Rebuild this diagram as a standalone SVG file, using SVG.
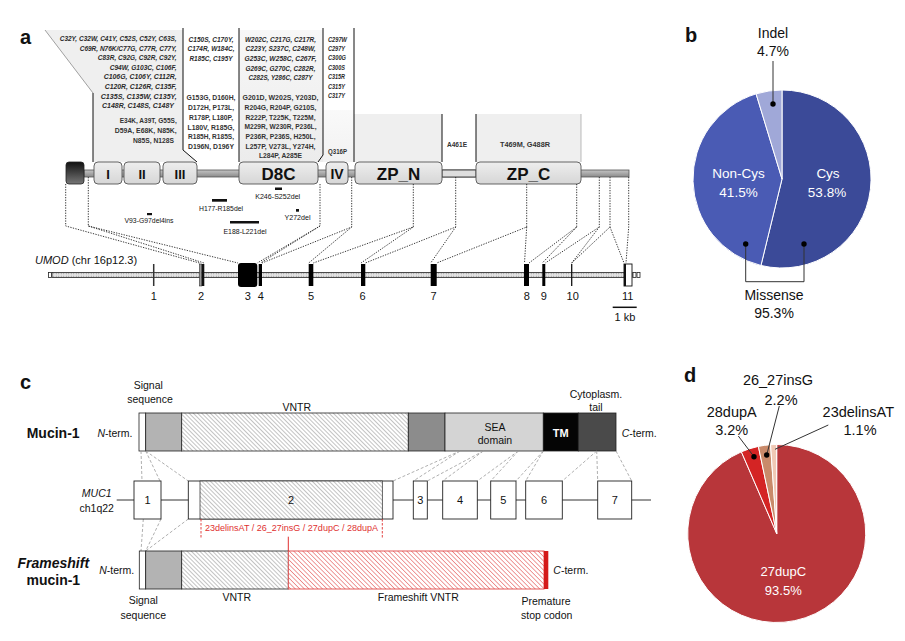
<svg xmlns="http://www.w3.org/2000/svg" width="905" height="641" viewBox="0 0 905 641">
<defs>
<style>
text{font-family:"Liberation Sans",Arial,sans-serif;fill:#111}
.lab{font-weight:bold;font-size:20px}
.mi{font-style:italic;font-weight:bold;font-size:7.3px;fill:#2a2a2a}
.mn{font-weight:bold;font-size:7.3px;fill:#333}
.dom{font-weight:bold;font-size:17px;text-anchor:middle}
.ex{font-size:11px;text-anchor:middle}
.dl{font-size:7px;text-anchor:middle}
.dt{stroke:#222;stroke-width:0.9;stroke-dasharray:1.3 1.3;fill:none}
.gd{stroke:#9a9a9a;stroke-width:0.8;stroke-dasharray:3 2;fill:none}
.c{font-size:10.5px;text-anchor:middle}
.pw{font-size:13.5px;fill:#fff;text-anchor:middle}
.pk{font-size:14px;text-anchor:middle}
.box{fill:url(#boxg);stroke:#555;stroke-width:0.9}
.seg{stroke:#222;stroke-width:0.8}
</style>
<linearGradient id="boxg" x1="0" y1="0" x2="0" y2="1"><stop offset="0" stop-color="#eeeeee"/><stop offset="1" stop-color="#d6d6d6"/></linearGradient>
<linearGradient id="barg" x1="0" y1="0" x2="0" y2="1"><stop offset="0" stop-color="#c4c4c4"/><stop offset="1" stop-color="#8a8a8a"/></linearGradient>
<linearGradient id="sigg" x1="0" y1="0" x2="0" y2="1"><stop offset="0" stop-color="#111"/><stop offset="1" stop-color="#777"/></linearGradient>
<linearGradient id="colg" x1="0" y1="0" x2="0" y2="1"><stop offset="0" stop-color="#f7f7f7"/><stop offset="1" stop-color="#ececec"/></linearGradient>
<pattern id="hatch" patternUnits="userSpaceOnUse" width="3" height="3" patternTransform="rotate(-45)"><rect width="3" height="3" fill="#fff"/><line x1="0" y1="0" x2="0" y2="3" stroke="#7a7a7a" stroke-width="0.9"/></pattern>
<pattern id="rhatch" patternUnits="userSpaceOnUse" width="3.2" height="3.2" patternTransform="rotate(-45)"><rect width="3.2" height="3.2" fill="#fff"/><line x1="0" y1="0" x2="0" y2="3.2" stroke="#e03a3a" stroke-width="1"/></pattern>
<pattern id="dots" patternUnits="userSpaceOnUse" width="2.5" height="2.5"><rect width="2.5" height="2.5" fill="#e6e6e6"/><circle cx="1.25" cy="1.25" r="0.6" fill="#8a8a8a"/></pattern>
</defs>
<rect width="905" height="641" fill="#fff"/>

<!-- Panel labels -->
<text class="lab" x="20" y="44">a</text>
<text class="lab" x="685" y="42">b</text>
<text class="lab" x="20" y="389">c</text>
<text class="lab" x="684" y="382">d</text>

<!-- Panel a: callouts -->
<g id="callouts">
<polygon points="45,30 183,30 183,150 197,162 93,162 93,93" fill="#efefef"/>
<rect x="239" y="30" width="84" height="132" fill="url(#colg)"/>
<rect x="323" y="110" width="31" height="52" fill="url(#colg)" opacity="0.7"/>
<rect x="354" y="114" width="88" height="48" fill="#efefef"/>
<rect x="476" y="114" width="105" height="48" fill="#efefef"/>
<line x1="45" y1="30" x2="93" y2="93" stroke="#8a8a8a" stroke-width="0.8"/>
<line x1="93" y1="93" x2="93" y2="162" stroke="#111" stroke-width="1"/>
<polyline points="183,28 183,150 197,162" fill="none" stroke="#111" stroke-width="1"/>
<line x1="239" y1="28" x2="239" y2="162" stroke="#111" stroke-width="1"/>
<polyline points="323,28 323,155 318,162" fill="none" stroke="#111" stroke-width="1"/>
<line x1="354" y1="28" x2="354" y2="162" stroke="#111" stroke-width="1"/>
<line x1="442" y1="114" x2="442" y2="162" stroke="#111" stroke-width="1"/>
<line x1="476" y1="114" x2="476" y2="162" stroke="#111" stroke-width="1"/>
<line x1="581" y1="114" x2="581" y2="162" stroke="#aaa" stroke-width="0.8"/>
</g>

<g id="mut-col1" text-anchor="end">
<text class="mi" x="176.7" y="41" textLength="117" lengthAdjust="spacingAndGlyphs">C32Y, C32W, C41Y, C52S, C52Y, C63S,</text>
<text class="mi" x="176.7" y="50.6" textLength="97" lengthAdjust="spacingAndGlyphs">C69R, N76K/C77G, C77R, C77Y,</text>
<text class="mi" x="176.7" y="60.2" textLength="79" lengthAdjust="spacingAndGlyphs">C83R, C92G, C92R, C92Y,</text>
<text class="mi" x="176.7" y="69.8" textLength="67" lengthAdjust="spacingAndGlyphs">C94W, G103C, C106F,</text>
<text class="mi" x="176.7" y="79.4" textLength="73" lengthAdjust="spacingAndGlyphs">C106G, C106Y, C112R,</text>
<text class="mi" x="176.7" y="89" textLength="72" lengthAdjust="spacingAndGlyphs">C120R, C126R, C135F,</text>
<text class="mi" x="176.7" y="98.6" textLength="76" lengthAdjust="spacingAndGlyphs">C135S, C135W, C135Y,</text>
<text class="mi" x="174" y="108.2" textLength="72" lengthAdjust="spacingAndGlyphs">C148R, C148S, C148Y</text>
<text class="mn" x="176.7" y="122.5" textLength="57" lengthAdjust="spacingAndGlyphs">E34K, A39T, G55S,</text>
<text class="mn" x="176.7" y="132.5" textLength="62" lengthAdjust="spacingAndGlyphs">D59A, E68K, N85K,</text>
<text class="mn" x="174" y="142.7" textLength="41" lengthAdjust="spacingAndGlyphs">N85S, N128S</text>
</g>

<g id="mut-col2" text-anchor="middle">
<text class="mi" x="211" y="41.5" textLength="45" lengthAdjust="spacingAndGlyphs">C150S, C170Y,</text>
<text class="mi" x="211" y="51.3" textLength="47" lengthAdjust="spacingAndGlyphs">C174R, W184C,</text>
<text class="mi" x="211" y="61" textLength="43" lengthAdjust="spacingAndGlyphs">R185C, C195Y</text>
<text class="mn" x="211" y="100.2" textLength="49" lengthAdjust="spacingAndGlyphs">G153G, D160H,</text>
<text class="mn" x="211" y="110" textLength="46" lengthAdjust="spacingAndGlyphs">D172H, P173L,</text>
<text class="mn" x="211" y="119.8" textLength="44" lengthAdjust="spacingAndGlyphs">R178P, L180P,</text>
<text class="mn" x="211" y="129.6" textLength="47" lengthAdjust="spacingAndGlyphs">L180V, R185G,</text>
<text class="mn" x="211" y="139.4" textLength="46" lengthAdjust="spacingAndGlyphs">R185H, R185S,</text>
<text class="mn" x="211" y="149.2" textLength="46" lengthAdjust="spacingAndGlyphs">D196N, D196Y</text>
</g>

<g id="mut-col3" text-anchor="middle">
<text class="mi" x="280.5" y="41.5" textLength="71" lengthAdjust="spacingAndGlyphs">W202C, C217G, C217R,</text>
<text class="mi" x="280.5" y="51.2" textLength="70" lengthAdjust="spacingAndGlyphs">C223Y, S237C, C248W,</text>
<text class="mi" x="280.5" y="60.9" textLength="72" lengthAdjust="spacingAndGlyphs">G253C, W258C, C267F,</text>
<text class="mi" x="280.5" y="70.6" textLength="70" lengthAdjust="spacingAndGlyphs">G269C, G270C, C282R,</text>
<text class="mi" x="280.5" y="80.3" textLength="64" lengthAdjust="spacingAndGlyphs">C282S, Y286C, C287Y</text>
<text class="mn" x="280.5" y="100.2" textLength="76" lengthAdjust="spacingAndGlyphs">G201D, W202S, Y203D,</text>
<text class="mn" x="280.5" y="109.9" textLength="72" lengthAdjust="spacingAndGlyphs">R204G, R204P, G210S,</text>
<text class="mn" x="280.5" y="119.6" textLength="70" lengthAdjust="spacingAndGlyphs">R222P, T225K, T225M,</text>
<text class="mn" x="280.5" y="129.3" textLength="72" lengthAdjust="spacingAndGlyphs">M229R, W230R, P236L,</text>
<text class="mn" x="280.5" y="139" textLength="70" lengthAdjust="spacingAndGlyphs">P236R, P236S, H250L,</text>
<text class="mn" x="280.5" y="148.7" textLength="70" lengthAdjust="spacingAndGlyphs">L257P, V273L, Y274H,</text>
<text class="mn" x="280.5" y="158.4" textLength="43" lengthAdjust="spacingAndGlyphs">L284P, A285E</text>
</g>

<g id="mut-col4">
<text class="mi" x="328" y="41.5" textLength="19" lengthAdjust="spacingAndGlyphs">C297W</text>
<text class="mi" x="328" y="51" textLength="17" lengthAdjust="spacingAndGlyphs">C297Y</text>
<text class="mi" x="328" y="60.4" textLength="18" lengthAdjust="spacingAndGlyphs">C300G</text>
<text class="mi" x="328" y="69.9" textLength="17" lengthAdjust="spacingAndGlyphs">C300S</text>
<text class="mi" x="328" y="79.3" textLength="17" lengthAdjust="spacingAndGlyphs">C315R</text>
<text class="mi" x="328" y="88.8" textLength="17" lengthAdjust="spacingAndGlyphs">C315Y</text>
<text class="mi" x="328" y="98.2" textLength="17" lengthAdjust="spacingAndGlyphs">C317Y</text>
<text class="mn" x="328" y="154" textLength="19" lengthAdjust="spacingAndGlyphs">Q316P</text>
<text class="mn" x="447" y="146.5" textLength="20" lengthAdjust="spacingAndGlyphs">A461E</text>
<text class="mn" x="500" y="146.5" textLength="50" lengthAdjust="spacingAndGlyphs">T469M, G488R</text>
</g>

<!-- Panel a: protein domain bar -->
<g id="protein">
<rect x="84" y="170" width="545" height="7" fill="url(#barg)" stroke="#555" stroke-width="0.8"/>
<rect x="442" y="170" width="34" height="7" fill="#dedede" stroke="#222" stroke-width="0.8"/>
<rect x="66" y="162" width="18" height="22" rx="3" fill="url(#sigg)" stroke="#222" stroke-width="0.8"/>
</g>
<g id="dom-I"><rect class="box" x="94" y="162" width="28" height="22" rx="4"/><text class="dom" x="108" y="178.5" style="font-size:13px">I</text></g>
<g id="dom-II"><rect class="box" x="124" y="162" width="36" height="22" rx="4"/><text class="dom" x="142" y="178.5" style="font-size:13px">II</text></g>
<g id="dom-III"><rect class="box" x="163" y="162" width="34" height="22" rx="4"/><text class="dom" x="180" y="178.5" style="font-size:13px">III</text></g>
<g id="dom-D8C"><rect class="box" x="239" y="162" width="79" height="22" rx="4"/><text class="dom" x="278.5" y="179.5">D8C</text></g>
<g id="dom-IV"><rect class="box" x="326" y="162" width="22" height="22" rx="4"/><text class="dom" x="337" y="179" style="font-size:14px">IV</text></g>
<g id="dom-ZPN"><rect class="box" x="355" y="162" width="87" height="22" rx="4"/><text class="dom" x="398.5" y="179.5">ZP_N</text></g>
<g id="dom-ZPC"><rect class="box" x="476" y="162" width="105" height="22" rx="4"/><text class="dom" x="528.5" y="179.5">ZP_C</text></g>

<g id="deletions">
<rect x="275" y="187.5" width="7" height="2.5" fill="#111"/><text class="dl" x="277.7" y="198.5" textLength="45" lengthAdjust="spacingAndGlyphs">K246-S252del</text>
<rect x="212" y="199" width="15" height="2.7" fill="#111"/><text class="dl" x="221" y="210.8" textLength="44" lengthAdjust="spacingAndGlyphs">H177-R185del</text>
<rect x="147" y="213" width="5" height="2.2" fill="#111"/><text class="dl" x="149" y="223" textLength="49" lengthAdjust="spacingAndGlyphs">V93-G97del4ins</text>
<rect x="230" y="221" width="29" height="2.5" fill="#111"/><text class="dl" x="245" y="233.5" textLength="43" lengthAdjust="spacingAndGlyphs">E188-L221del</text>
<rect x="296" y="209" width="3" height="2.7" fill="#111"/><text class="dl" x="297.5" y="219.8" textLength="26" lengthAdjust="spacingAndGlyphs">Y272del</text>
</g>

<!-- Panel a connectors -->
<g id="connectors-a">
<path class="dt" d="M65.7,184 V226 L199.5,263"/>
<path class="dt" d="M88.3,177 V226 L204,263 M88.3,226 L238,263"/>
<path class="dt" d="M320,184 V226 L257.3,263 M320,226 L260.5,263"/>
<path class="dt" d="M351.7,177 V227 L262,263 M351.7,227 L308.7,263"/>
<path class="dt" d="M413.3,184 V227 L313.3,263 M413.3,227 L361,263"/>
<path class="dt" d="M455.7,177 V227 L365.3,263 M455.7,227 L430.7,263"/>
<path class="dt" d="M526.7,184 V227 L436.7,263 M526.7,227 L524.5,263"/>
<path class="dt" d="M576.7,184 V227 L529,263 M576.7,227 L542.3,263"/>
<path class="dt" d="M599.3,177 V227 L545.3,263 M599.3,227 L571.7,263"/>
<path class="dt" d="M610,177 V227 L571.7,263 M610,227 L624,263"/>
<path class="dt" d="M628.7,177 V227 L626,263"/>
</g>

<!-- Panel a gene -->
<g id="umod-gene">
<text x="35" y="264" style="font-size:11px"><tspan font-style="italic">UMOD</tspan> (chr 16p12.3)</text>
<rect x="52" y="272.5" width="580" height="5" fill="url(#dots)" stroke="#222" stroke-width="0.8"/>
<rect x="48.5" y="272.5" width="3" height="5" fill="#fff" stroke="#222" stroke-width="0.8"/>
<rect x="633" y="272.5" width="3" height="5" fill="#fff" stroke="#222" stroke-width="0.8"/>
<rect x="637" y="272.5" width="3" height="5" fill="#fff" stroke="#222" stroke-width="0.8"/>
<line x1="153.7" y1="264" x2="153.7" y2="286" stroke="#333" stroke-width="1.5"/>
<rect x="199.3" y="264" width="2.5" height="22" fill="#999" stroke="#222" stroke-width="0.5"/>
<rect x="201.8" y="264" width="2.5" height="22" fill="#111"/>
<rect x="238" y="263" width="19.3" height="24" rx="3" fill="#000"/>
<rect x="258.7" y="264" width="3.3" height="22" fill="#000"/>
<rect x="308.7" y="264" width="4.6" height="22" fill="#000"/>
<rect x="361" y="264" width="4.3" height="22" fill="#000"/>
<rect x="430.7" y="264" width="6" height="22" fill="#000"/>
<rect x="524" y="264" width="5" height="22" fill="#000"/>
<rect x="542.3" y="264" width="3" height="22" fill="#000"/>
<line x1="571.7" y1="264" x2="571.7" y2="286" stroke="#111" stroke-width="1.3"/>
<rect x="624" y="264" width="8" height="22" fill="#fff" stroke="#111" stroke-width="0.9"/>
<rect x="624" y="264" width="2" height="22" fill="#111"/>
<text class="ex" x="153.7" y="300">1</text>
<text class="ex" x="201" y="300">2</text>
<text class="ex" x="247.7" y="300">3</text>
<text class="ex" x="260.7" y="300">4</text>
<text class="ex" x="311" y="300">5</text>
<text class="ex" x="362.5" y="300">6</text>
<text class="ex" x="433.5" y="300">7</text>
<text class="ex" x="526.7" y="300">8</text>
<text class="ex" x="543.7" y="300">9</text>
<text class="ex" x="572.7" y="300">10</text>
<text class="ex" x="627.7" y="300">11</text>
<line x1="612.7" y1="307.3" x2="636.7" y2="307.3" stroke="#111" stroke-width="1.5"/>
<text class="ex" x="625" y="321">1 kb</text>
</g>

<!-- Panel b pie -->
<g id="pie-b">
<path d="M782,179 L782,90 A89,89 0 1,1 760.95,265.47 Z" fill="#3b4a98" stroke="#fff" stroke-width="1"/>
<path d="M782,179 L760.95,265.47 A89,89 0 0,1 756.1,93.85 Z" fill="#4a5bb4" stroke="#fff" stroke-width="1"/>
<path d="M782,179 L756.1,93.85 A89,89 0 0,1 782,90 Z" fill="#a0a8d8" stroke="#fff" stroke-width="1"/>
<text class="pw" x="828" y="178">Cys</text>
<text class="pw" x="827" y="197">53.8%</text>
<text class="pw" x="738.5" y="178">Non-Cys</text>
<text class="pw" x="738.5" y="197">41.5%</text>
<text class="pk" x="773" y="38">Indel</text>
<text class="pk" x="773" y="56">4.7%</text>
<line x1="773" y1="61" x2="773" y2="104" stroke="#333" stroke-width="1"/>
<circle cx="773" cy="104" r="2.7" fill="#000"/>
<polyline points="745.7,244 745.7,281.7 804,281.7 804,244" fill="none" stroke="#333" stroke-width="1"/>
<circle cx="745.7" cy="244" r="2.7" fill="#000"/>
<circle cx="804" cy="244" r="2.7" fill="#000"/>
<text class="pk" x="774" y="300">Missense</text>
<text class="pk" x="774" y="318">95.3%</text>
</g>

<!-- Panel c -->
<g id="mucin1">
<text x="26.7" y="438" style="font-weight:bold;font-size:14px">Mucin-1</text>
<text class="c" x="115" y="437"><tspan font-style="italic">N</tspan>-term.</text>
<text class="c" x="148.3" y="389">Signal</text>
<text class="c" x="150" y="403">sequence</text>
<text class="c" x="296.7" y="411">VNTR</text>
<text class="c" x="596" y="398">Cytoplasm.</text>
<text class="c" x="596" y="411">tail</text>
<rect class="seg" x="139" y="413" width="6.7" height="38" fill="#fff"/>
<rect class="seg" x="145.7" y="413" width="36" height="38" fill="#b3b3b3"/>
<rect class="seg" x="181.7" y="413" width="226.6" height="38" fill="url(#hatch)"/>
<rect class="seg" x="408.3" y="413" width="36.7" height="38" fill="#8c8c8c"/>
<rect class="seg" x="445" y="413" width="98.3" height="38" fill="#d4d4d4"/>
<rect class="seg" x="543.3" y="413" width="35" height="38" fill="#050505"/>
<rect class="seg" x="578.3" y="413" width="37.7" height="38" fill="#4a4a4a"/>
<text class="c" x="495" y="430.5">SEA</text>
<text class="c" x="495" y="444">domain</text>
<text x="560.7" y="437" style="font-weight:bold;font-size:11px;fill:#fff;text-anchor:middle">TM</text>
<text class="c" x="621.7" y="437" style="text-anchor:start"><tspan font-style="italic">C</tspan>-term.</text>
</g>

<g id="connectors-c">
<path class="gd" d="M141,451 L142,481 M145.7,451 L160,481 M145.7,451 L188.3,481"/>
<path class="gd" d="M460,451 L393,481 M460,451 L413.3,481"/>
<path class="gd" d="M483.3,451 L427.3,481 M483.3,451 L442.7,481"/>
<path class="gd" d="M518.3,451 L477.3,481 M518.3,451 L490.7,481"/>
<path class="gd" d="M543.3,451 L516,481 M543.3,451 L525.7,481"/>
<path class="gd" d="M596.7,451 L562.3,481 M596.7,451 L597.7,481"/>
<path class="gd" d="M616,451 L631.7,481"/>
<path class="gd" d="M143.3,519 L141,551 M161,519 L145.7,551 M188.3,519 L145.7,551"/>
</g>

<g id="muc1-gene">
<text class="c" x="96.7" y="497" font-style="italic">MUC1</text>
<text class="c" x="96.7" y="512">ch1q22</text>
<line x1="116.7" y1="500" x2="651" y2="500" stroke="#333" stroke-width="1"/>
<rect x="134" y="481" width="27" height="38" fill="#fff" stroke="#222" stroke-width="0.9"/>
<rect x="188.3" y="481" width="204.7" height="38" fill="#fff" stroke="#222" stroke-width="0.9"/>
<rect x="200" y="481" width="182.3" height="38" fill="url(#hatch)" stroke="#222" stroke-width="0.7"/>
<rect x="413.3" y="481" width="14" height="38" fill="#fff" stroke="#222" stroke-width="0.9"/>
<rect x="442.7" y="481" width="34.6" height="38" fill="#fff" stroke="#222" stroke-width="0.9"/>
<rect x="490.7" y="481" width="25.3" height="38" fill="#fff" stroke="#222" stroke-width="0.9"/>
<rect x="525.7" y="481" width="36.6" height="38" fill="#fff" stroke="#222" stroke-width="0.9"/>
<rect x="597.7" y="481" width="34" height="38" fill="#fff" stroke="#222" stroke-width="0.9"/>
<text class="ex" x="147.5" y="504">1</text>
<text class="ex" x="291" y="504">2</text>
<text class="ex" x="420.3" y="504">3</text>
<text class="ex" x="460" y="504">4</text>
<text class="ex" x="503.3" y="504">5</text>
<text class="ex" x="544" y="504">6</text>
<text class="ex" x="614.7" y="504">7</text>
<line x1="201" y1="519" x2="201" y2="538.3" stroke="#e03030" stroke-width="0.9" stroke-dasharray="2.5 1.5"/>
<line x1="382.3" y1="519" x2="382.3" y2="538.3" stroke="#e03030" stroke-width="0.9" stroke-dasharray="2.5 1.5"/>
<text x="205" y="531" style="font-size:9px;fill:#e03030" textLength="173" lengthAdjust="spacingAndGlyphs">23delinsAT / 26_27insG / 27dupC / 28dupA</text>
<line x1="288.3" y1="536.7" x2="288.3" y2="551" stroke="#e03030" stroke-width="1"/>
</g>

<g id="frameshift-mucin1">
<text x="53.3" y="567.5" style="font-weight:bold;font-style:italic;font-size:14px;text-anchor:middle">Frameshift</text>
<text x="53.3" y="585" style="font-weight:bold;font-size:14px;text-anchor:middle">mucin-1</text>
<text class="c" x="116.7" y="574"><tspan font-style="italic">N</tspan>-term.</text>
<rect class="seg" x="139.3" y="551" width="6.4" height="38" fill="#fff"/>
<rect class="seg" x="145.7" y="551" width="36" height="38" fill="#b3b3b3"/>
<rect class="seg" x="181.7" y="551" width="106.6" height="38" fill="url(#hatch)"/>
<rect x="288.3" y="551" width="255.7" height="38" fill="url(#rhatch)" stroke="#e04848" stroke-width="0.9"/>
<rect x="544" y="551" width="4.3" height="38" fill="#d41a1a"/>
<text class="c" x="143.3" y="604">Signal</text>
<text class="c" x="143.3" y="619">sequence</text>
<text class="c" x="236.7" y="601">VNTR</text>
<text class="c" x="418.3" y="601">Frameshift VNTR</text>
<text class="c" x="553.3" y="574" style="text-anchor:start"><tspan font-style="italic">C</tspan>-term.</text>
<text class="c" x="546" y="605">Premature</text>
<text class="c" x="546.7" y="619">stop codon</text>
</g>

<!-- Panel d pie -->
<g id="pie-d">
<path d="M776.7,533.5 L776.7,444.5 A89,89 0 1,1 741.36,451.82 Z" fill="#b8363a" stroke="#fff" stroke-width="1"/>
<path d="M776.7,533.5 L741.36,451.82 A89,89 0 0,1 758.38,446.4 Z" fill="#d42424" stroke="#fff" stroke-width="1"/>
<path d="M776.7,533.5 L758.38,446.4 A89,89 0 0,1 770.55,444.71 Z" fill="#c98a6a" stroke="#fff" stroke-width="1"/>
<path d="M776.7,533.5 L770.55,444.71 A89,89 0 0,1 776.7,444.5 Z" fill="#f0c8b4" stroke="#fff" stroke-width="1"/>
<text class="pw" x="783.3" y="576" style="font-size:13px">27dupC</text>
<text class="pw" x="783.3" y="594.5" style="font-size:13px">93.5%</text>
<text class="pk" x="778" y="385" style="font-size:14.5px">26_27insG</text>
<text class="pk" x="781" y="405" style="font-size:14.5px">2.2%</text>
<text class="pk" x="731.7" y="416.5" style="font-size:14.5px">28dupA</text>
<text class="pk" x="731.7" y="435" style="font-size:14.5px">3.2%</text>
<text class="pk" x="858.3" y="416.5" style="font-size:14.5px">23delinsAT</text>
<text class="pk" x="860" y="435" style="font-size:14.5px">1.1%</text>
<line x1="738.3" y1="436" x2="754" y2="456.7" stroke="#333" stroke-width="1"/>
<line x1="779.3" y1="406" x2="766.7" y2="455" stroke="#333" stroke-width="1"/>
<line x1="828.3" y1="425" x2="775" y2="449.3" stroke="#333" stroke-width="1"/>
<circle cx="754" cy="456.7" r="2.7" fill="#000"/>
<circle cx="766.7" cy="455" r="2.7" fill="#000"/>
</g>
</svg>
